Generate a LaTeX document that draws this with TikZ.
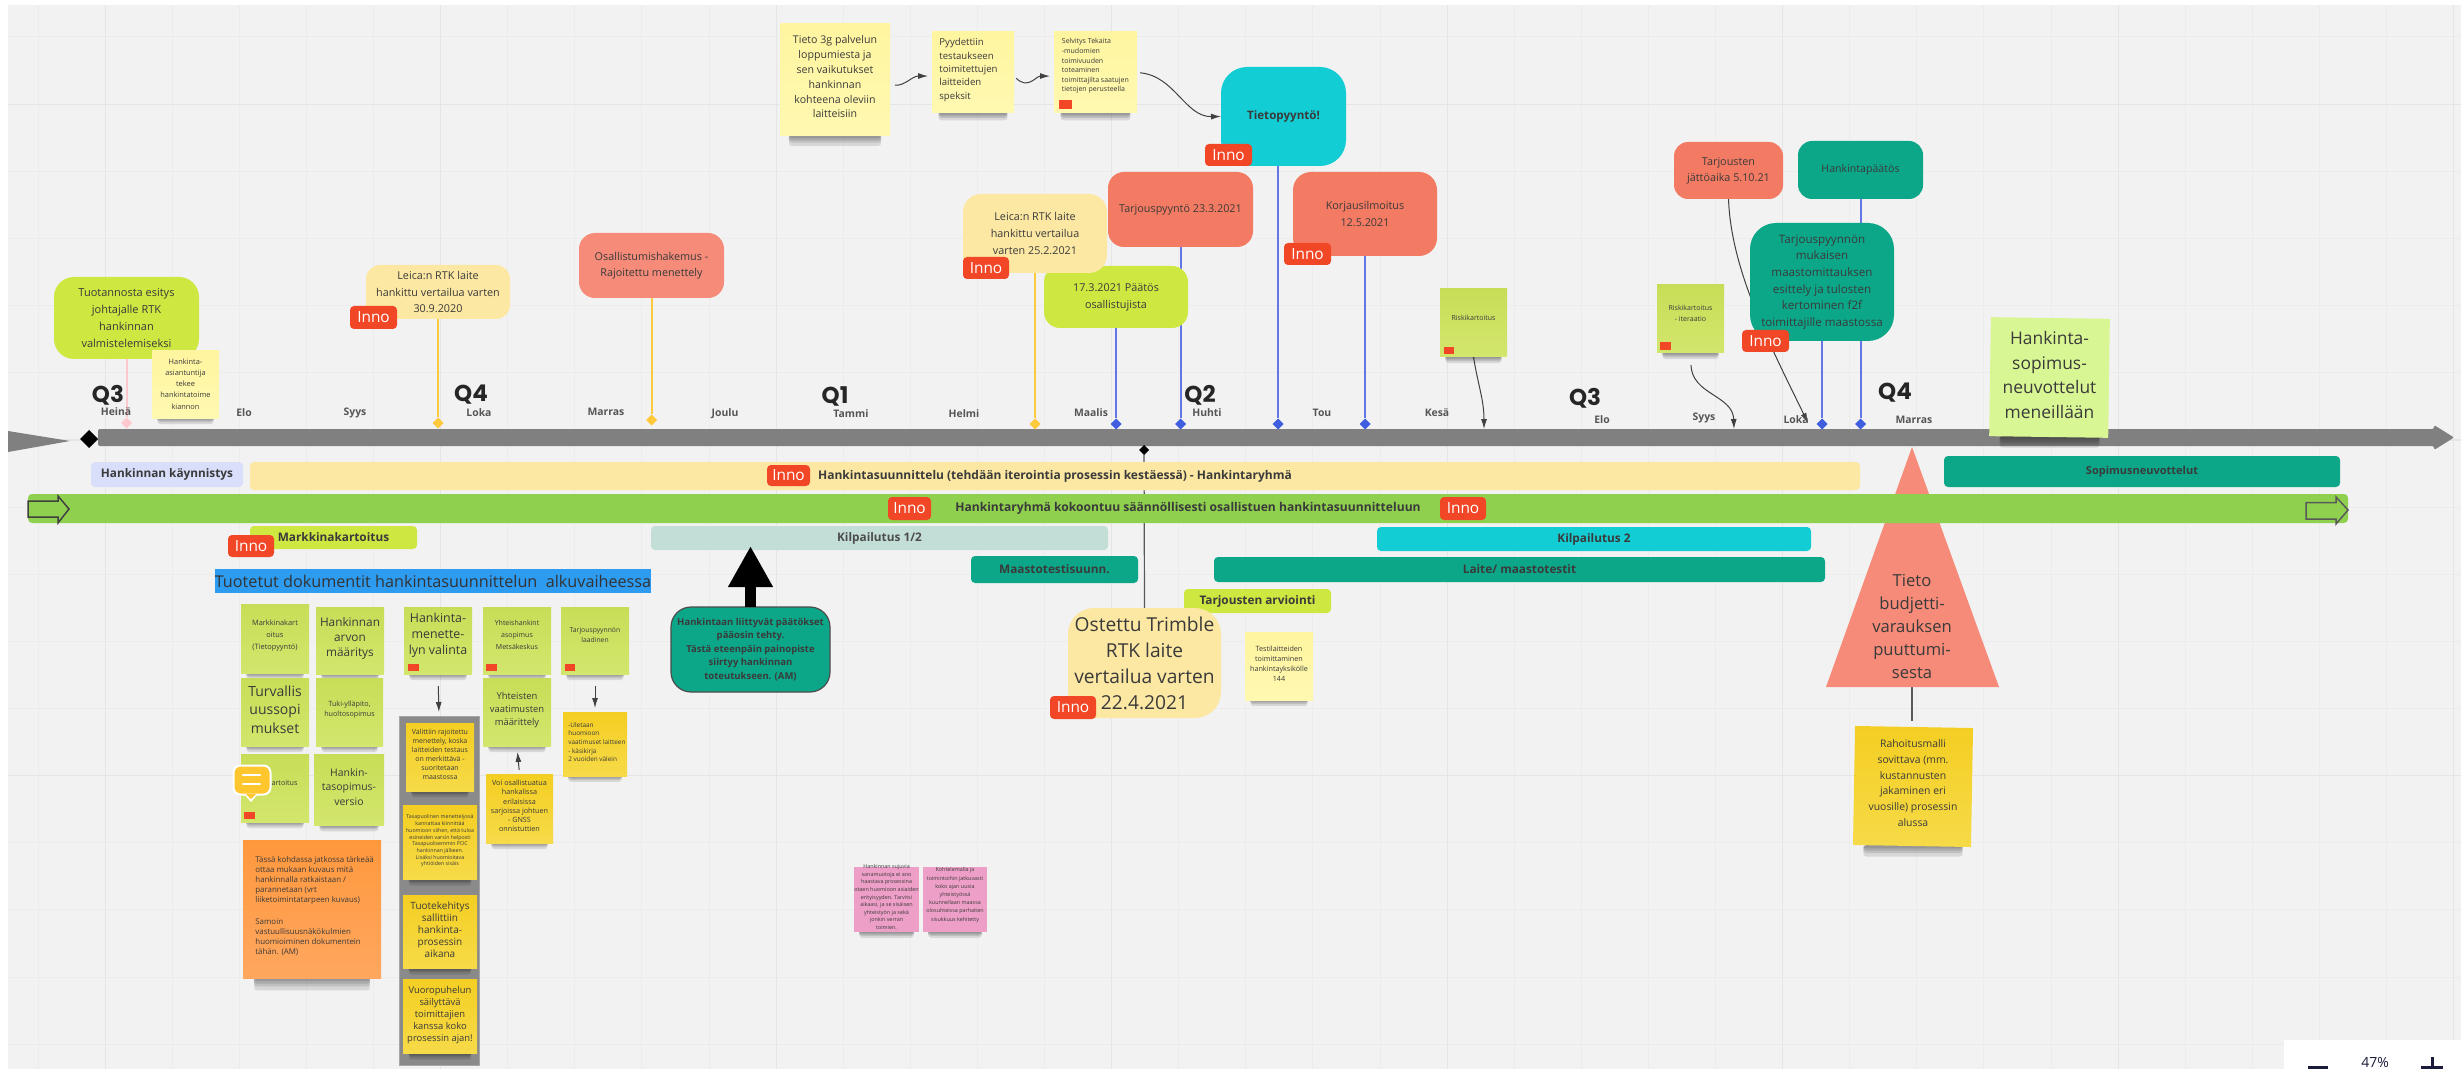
\documentclass[tikz,border=0pt]{standalone}
\usepackage{fontspec}
\setmainfont{Open Sans}
\newfontfamily\qfont{Poppins}
\usetikzlibrary{arrows.meta,shapes.geometric,calc}
\pgfdeclarelayer{bglayer}
\pgfdeclarelayer{linelayer}
\pgfsetlayers{bglayer,linelayer,main}
\definecolor{canvasgrey}{HTML}{F2F2F2}
\definecolor{gridminor}{HTML}{ECECEC}
\definecolor{gridmajor}{HTML}{E5E5E5}
\definecolor{barGrey}{HTML}{808080}
\definecolor{limeC}{HTML}{CEE741}
\definecolor{sandC}{HTML}{FCE8A3}
\definecolor{salmonC}{HTML}{F58B78}
\definecolor{coralC}{HTML}{F47B63}
\definecolor{cyanC}{HTML}{12CDD4}
\definecolor{tealC}{HTML}{0CA789}
\definecolor{periC}{HTML}{D9DFFB}
\definecolor{mintC}{HTML}{C3DED6}
\definecolor{grassC}{HTML}{8FD14F}
\definecolor{skyC}{HTML}{2D9BF0}
\definecolor{innoC}{HTML}{F24726}
\definecolor{lineBlue}{HTML}{6475E8}
\definecolor{diaBlue}{HTML}{3F5FE0}
\definecolor{lineGold}{HTML}{FFC93C}
\definecolor{pinkC}{HTML}{FFC9CF}
\definecolor{inkC}{HTML}{3A3A3A}
\definecolor{monthC}{HTML}{555555}
\definecolor{bubbleC}{HTML}{FFC62E}
\definecolor{navyC}{HTML}{1A1A3A}
\newcommand{\fs}[2]{\fontsize{#1}{#2}\selectfont}
% box with centred text: style, name, x1,y1,x2,y2, text
\newcommand{\bx}[7][]{\node[inner sep=0pt,outer sep=0pt,align=center,text=inkC,
  minimum width={(#5-#3)*0.5pt},minimum height={(#6-#4)*0.5pt},#1] (#2) at ({(#3+#5)/2},{(#4+#6)/2}) {#7};}
% free text
\newcommand{\tx}[5][]{\node[inner sep=0pt,align=center,text=inkC,#1] (#2) at (#3,#4) {#5};}
% sticky note: box style, name, x1,y1,x2,y2, text y, text options, text
\newcommand{\sticky}[9]{%
  \foreach \a in {0.02,0.04,0.06,0.09}{\fill[black,opacity=0.11,rounded corners=1.5pt]
     ({#3+0.08*(#5-#3)},{#6-1}) rectangle ({#5-0.08*(#5-#3)},{#6+\a*(#5-#3)});}
  \node[inner sep=0pt,outer sep=0pt,minimum width={(#5-#3)*0.5pt},minimum height={(#6-#4)*0.5pt},#1] (#2) at ({(#3+#5)/2},{(#4+#6)/2}) {};
  \node[inner sep=0pt,align=center,text=inkC,#8] (#2-t) at ({(#3+#5)/2},#7) {#9};}
\newcommand{\inno}[5]{\bx[innotag]{#1}{#2}{#3}{#4}{#5}{Inno}}
\newcommand{\redsq}[5]{\fill[innoC] (#2,#3) rectangle (#4,#5) coordinate (#1);}
\definecolor{FFF5A0}{HTML}{FFF5A0}\definecolor{FFF8B0}{HTML}{FFF8B0}
\definecolor{C8DD57}{HTML}{C8DD57}\definecolor{D3E66D}{HTML}{D3E66D}
\definecolor{F4CE22}{HTML}{F4CE22}\definecolor{F6DA48}{HTML}{F6DA48}
\definecolor{FF983D}{HTML}{FF983D}\definecolor{FFA75F}{HTML}{FFA75F}
\definecolor{EE9FC8}{HTML}{EE9FC8}\definecolor{D9F694}{HTML}{D9F694}
\tikzset{
  x=0.5pt,y=-0.5pt,
  innotag/.style={fill=innoC,rounded corners=2pt,text=white,font=\fs{7.7}{9}},
  boxL/.style={rounded corners=10pt},
  barbox/.style={rounded corners=2pt,font=\fs{5.9}{8}\bfseries},
  month/.style={text=monthC,font=\fs{5.2}{7}\bfseries},
  quarter/.style={text=black!85,font=\qfont\fs{11.5}{13}\bfseries},
  dia/.style={diamond,inner sep=0pt,outer sep=0pt,minimum size=5.5pt},
  bluel/.style={lineBlue,line width=1pt},
  goldl/.style={lineGold,line width=1pt},
  thincurve/.style={black!75,line width=0.5pt,-{Latex[length=5pt,width=3pt]}},
  stYellow/.style={top color=FFF5A0,bottom color=FFF8B0},
  stGreen/.style={top color=C8DD57,bottom color=D3E66D},
  stGold/.style={top color=F4CE22,bottom color=F6DA48},
  stOrange/.style={top color=FF983D,bottom color=FFA75F},
  stPink/.style={fill=EE9FC8},
  stLime/.style={fill=D9F694},
}
\begin{document}
\begin{tikzpicture}
\useasboundingbox (0,0) rectangle (2461,1069);
\begin{pgfonlayer}{bglayer}
  \fill[white] (0,0) rectangle (2461,1069);
  \fill[canvasgrey] (8,5) rectangle (2461,1069);
  \foreach \i in {0,...,36} \draw[gridminor,line width=0.5pt] ({38+67.1*\i},5) -- ({38+67.1*\i},1069);
  \foreach \j in {0,...,15} \draw[gridminor,line width=0.5pt] (8,{37+67.15*\j}) -- (2461,{37+67.15*\j});
  \foreach \i in {1,6,...,36} \draw[gridmajor,line width=0.6pt] ({38+67.1*\i},5) -- ({38+67.1*\i},1069);
  \foreach \j in {1,6,11} \draw[gridmajor,line width=0.6pt] (8,{37+67.15*\j}) -- (2461,{37+67.15*\j});
\end{pgfonlayer}

% timeline
\fill[barGrey] (8,431) -- (70,441) -- (8,452) -- cycle;
\fill[barGrey,rounded corners=1pt] (98,429) -- (2434,429) -- (2434,425) -- (2454,437.5) -- (2434,450) -- (2434,446) -- (98,446) -- cycle;
\node[dia,fill=black,minimum size=9pt] (startd) at (89,439) {};
\node[dia,fill=black,minimum size=5pt] (midd) at (1144,450) {};

% month and quarter labels
\tx[month]{mHeina}{116}{412}{Heinä}
\tx[month]{mElo}{244}{413}{Elo}
\tx[month]{mSyys}{355}{413}{Syys}
\tx[month]{mLoka}{479}{413}{Loka}
\tx[month]{mMarras}{606}{412}{Marras}
\tx[month]{mJoulu}{725}{414}{Joulu}
\tx[month]{mTammi}{851}{414}{Tammi}
\tx[month]{mHelmi}{964}{414}{Helmi}
\tx[month]{mMaalis}{1091}{413}{Maalis}
\tx[month]{mHuhti}{1207}{413}{Huhti}
\tx[month]{mTou}{1322}{413}{Tou}
\tx[month]{mKesa}{1437}{413}{Kesä}
\tx[month]{mElob}{1602}{420}{Elo}
\tx[month]{mSyysb}{1704}{418}{Syys}
\tx[month]{mLokab}{1796}{420}{Loka}
\tx[month]{mMarrasb}{1914}{420}{Marras}
\tx[quarter]{qa}{108}{395}{Q3}
\tx[quarter]{qb}{471}{395}{Q4}
\tx[quarter]{qc}{835}{396}{Q1}
\tx[quarter]{qd}{1200}{395}{Q2}
\tx[quarter]{qe}{1585}{398}{Q3}
\tx[quarter]{qf}{1895}{393}{Q4}

% triangle (below the green bar)
\fill[salmonC] (1912,447) coordinate (triapex) -- (1999,687) -- (1826,687) -- cycle;
\coordinate (tribase) at (1912,687);
\tx[font=\fs{8.3}{11.5}]{tritext}{1912}{626}{Tieto\\budjetti-\\varauksen\\puuttumi-\\sesta}

% bars
\bx[fill=periC,barbox,font=\fs{5.9}{8}\bfseries]{kayn}{91}{462}{243}{487}{Hankinnan käynnistys}
\bx[fill=sandC,barbox,font=\fs{6}{8}\bfseries]{hsuun}{250}{462}{1860}{490}{Hankintasuunnittelu (tehdään iterointia prosessin kestäessä) - Hankintaryhmä}
\bx[fill=grassC,barbox,font=\fs{6.05}{8}\bfseries]{ryhma}{28}{494}{2348}{523}{Hankintaryhmä kokoontuu säännöllisesti osallistuen hankintasuunnitteluun}
\draw[black!75,line width=0.75pt] (28,501) -- (58,501) -- (58,496) -- (69,509) -- (58,523) -- (58,517) -- (28,517) -- cycle;
\draw[black!65,line width=0.75pt] (2306,502.5) -- (2336,502.5) -- (2336,497) -- (2348,510) -- (2336,524) -- (2336,519) -- (2306,519) -- cycle;
\bx[fill=limeC,barbox]{mkart}{250}{526}{417}{549}{Markkinakartoitus}
\bx[fill=skyC,font=\fs{8.1}{9},text=black!80]{tuot}{216}{569}{650}{593}{Tuotetut dokumentit hankintasuunnittelun~ alkuvaiheessa}
\bx[fill=mintC,barbox,text=black!70]{kilp}{651}{526}{1108}{550}{Kilpailutus 1/2}
\bx[fill=cyanC,barbox]{kilpb}{1377}{527}{1811}{551}{Kilpailutus 2}
\bx[fill=tealC,barbox]{maasto}{971}{556}{1138}{583}{Maastotestisuunn.}
\bx[fill=tealC,barbox]{laite}{1214}{557}{1825}{582}{Laite/ maastotestit}
\bx[fill=limeC,barbox]{arvio}{1184}{589}{1331}{613}{Tarjousten arviointi}
\bx[fill=tealC,barbox,font=\fs{5.5}{8}\bfseries]{sopn}{1944}{456}{2340}{487}{Sopimusneuvottelut}

% milestone boxes
\bx[fill=limeC,boxL,font=\fs{5.5}{8.5}]{tuotan}{54}{277}{199}{359}{Tuotannosta esitys\\johtajalle RTK\\hankinnan\\valmistelemiseksi}
\bx[fill=sandC,boxL,rounded corners=7pt,font=\fs{5.4}{8.4}]{leicaa}{366}{265}{510}{319}{Leica:n RTK laite\\hankittu vertailua varten\\30.9.2020}
\bx[fill=salmonC,rounded corners=8pt,font=\fs{5.4}{8}]{osall}{579}{233}{724}{298}{Osallistumishakemus -\\Rajoitettu menettely}
\bx[fill=tealC,rounded corners=10pt,font=\fs{4.75}{6.8}\bfseries,draw=black!70,line width=0.6pt]{paat}{671}{607}{830}{692}{Hankintaan liittyvät päätökset\\pääosin tehty.\\Tästä eteenpäin painopiste\\siirtyy hankinnan\\toteutukseen. (AM)}
\bx[fill=cyanC,rounded corners=13pt,font=\fs{5.8}{8}\bfseries]{tieto}{1221}{67}{1346}{166}{Tietopyyntö!}
\bx[fill=coralC,rounded corners=8pt,font=\fs{5.4}{8}]{tarj}{1108}{172}{1253}{247}{Tarjouspyyntö 23.3.2021}
\bx[fill=coralC,rounded corners=9pt,font=\fs{5.4}{8.5}]{korj}{1293}{172}{1437}{256}{Korjausilmoitus\\12.5.2021}
\bx[fill=limeC,rounded corners=8pt,font=\fs{5.4}{8.5}]{paatos}{1044}{266}{1188}{328}{17.3.2021 Päätös\\osallistujista}
\bx[fill=sandC,rounded corners=9pt,font=\fs{5.4}{8.5}]{leicab}{963}{194}{1107}{273}{Leica:n RTK laite\\hankittu vertailua\\varten 25.2.2021}
\bx[fill=coralC,rounded corners=7pt,font=\fs{5.4}{8}]{jatto}{1674}{142}{1783}{199}{Tarjousten\\jättöaika 5.10.21}
\bx[fill=tealC,rounded corners=7pt,font=\fs{5.3}{8}]{hpaat}{1798}{141}{1923}{199}{Hankintapäätös}
\bx[fill=tealC,rounded corners=13pt,font=\fs{5.8}{8.3}]{mittaus}{1750}{223}{1894}{341}{Tarjouspyynnön\\mukaisen\\maastomittauksen\\esittely ja tulosten\\kertominen f2f\\toimittajille maastossa}
\bx[fill=sandC,rounded corners=13pt,font=\fs{9.6}{13}]{ostettu}{1068}{608}{1221}{718}{Ostettu Trimble\\RTK laite\\vertailua varten\\22.4.2021}

% diamonds on the timeline
\node[dia,fill=pinkC] (dpink) at (126.5,423) {};
\node[dia,fill=lineGold] (dgolda) at (438,423) {};
\node[dia,fill=lineGold] (dgoldb) at (651.5,420) {};
\node[dia,fill=lineGold] (dgoldc) at (1035,424) {};
\node[dia,fill=diaBlue] (dblueA) at (1116,424) {};
\node[dia,fill=diaBlue] (dblueB) at (1180.5,424) {};
\node[dia,fill=diaBlue] (dblueC) at (1278,424) {};
\node[dia,fill=diaBlue] (dblueD) at (1365,424) {};
\node[dia,fill=diaBlue] (dblueE) at (1822,424) {};
\node[dia,fill=diaBlue] (dblueF) at (1860.5,424) {};

% notes on the timeline side
\sticky{stYellow}{ekspert}{152}{351}{219}{418}{384}{font=\fs{3.7}{5.6}}{Hankinta-\\asiantuntija\\tekee\\hankintatoime\\kiannon}
\sticky{stYellow}{tiet3g}{780}{24}{890}{136}{77}{font=\fs{5.3}{7.4}}{Tieto 3g palvelun\\loppumiesta ja\\sen vaikutukset\\hankinnan\\kohteena oleviin\\laitteisiin}
\sticky{stYellow}{pyyd}{932}{32}{1014}{113}{70}{font=\fs{4.8}{6.7},align=left,anchor=west,xshift=-17pt}{Pyydettiin\\testaukseen\\toimitettujen\\laitteiden\\speksit}
\sticky{stYellow}{selv}{1054}{32}{1137}{113}{66}{font=\fs{3.5}{4.8},align=left,anchor=west,xshift=-17pt}{Selvitys Tekaita\\-mudomien\\toimivuuden\\toteaminen\\toimittajilta saatujen\\tietojen perusteella}
\redsq{selvr}{1059}{100}{1072}{109}
\sticky{stGreen}{risk}{1440}{289}{1507}{357}{318}{font=\fs{3.5}{5}}{Riskikartoitus}
\redsq{riskr}{1444}{347}{1454}{354}
\sticky{stGreen}{riskb}{1657}{285}{1724}{353}{313.5}{font=\fs{3.5}{5.6}}{Riskikartoitus\\- iteraatio}
\redsq{riskbr}{1660}{342}{1671}{350}
\sticky{stLime,rotate=-0.8}{hsop}{1990}{318}{2109}{437}{375}{font=\fs{8.7}{12.3}}{Hankinta-\\sopimus-\\neuvottelut\\meneillään}
\sticky{stGold,rotate=-1}{rahoi}{1854}{727}{1972}{846}{783}{font=\fs{5.2}{7.85}}{Rahoitusmalli\\sovittava (mm.\\kustannusten\\jakaminen eri\\vuosille) prosessin\\alussa}
\sticky{stYellow}{testi}{1245}{632}{1313}{700}{664}{font=\fs{3.6}{5}}{Testilaitteiden\\toimittaminen\\hankintayksikölle\\144}
\sticky{stPink}{pinka}{854}{867}{919}{932}{897}{font=\fs{2.7}{3.8}}{Hankinnan sujuvia\\sanamuotoja ei ano\\haastava prosessina\\otaen huomioon asiaiden\\erityisyyden. Tarvitsi\\aikaasi, ja se sisäisen\\yhteistyön ja sekä\\jonkin verran\\toimien.}
\sticky{stPink}{pinkb}{923}{867}{987}{932}{895}{font=\fs{2.7}{4.1}}{Kohtelemalla ja\\toimintoihin jatkuvasti\\koko ajan uusia\\yhteistyössä\\kuunnellaan maassa\\olosuhteissa parhaiten\\sisukkuus kehitetty}

% documents block
\sticky{stGreen}{docA}{241}{604}{309}{673}{636}{font=\fs{3.7}{6}}{Markkinakart\\oitus\\(Tietopyyntö)}
\sticky{stGreen}{docB}{316}{607}{384}{674}{638}{font=\fs{5.9}{7.5}}{Hankinnan\\arvon\\määritys}
\sticky{stGreen}{docC}{404}{607}{472}{674}{635}{font=\fs{6.2}{8}}{Hankinta-\\menette-\\lyn valinta}
\redsq{docCr}{408}{664}{419}{671}
\sticky{stGreen}{docD}{483}{607}{551}{674}{635}{font=\fs{3.5}{6}}{Yhteishankint\\asopimus\\Metsäkeskus}
\redsq{docDr}{486}{664}{497}{671}
\sticky{stGreen}{docE}{561}{607}{629}{674}{635}{font=\fs{3.4}{5}}{Tarjouspyynnön\\laadinen}
\redsq{docEr}{565}{664}{575}{671}
\sticky{stGreen}{docF}{241}{678}{309}{746}{709.5}{font=\fs{7}{9.2}}{Turvallis\\uussopi\\mukset}
\sticky{stGreen}{docG}{316}{678}{383}{746}{710}{font=\fs{3.6}{5}}{Tuki-ylläpito,\\huoltosopimus}
\sticky{stGreen}{docH}{483}{678}{551}{746}{710}{font=\fs{4.7}{6.5}}{Yhteisten\\vaatimusten\\määrittely}
\sticky{stGreen}{docI}{241}{754}{309}{822}{783}{font=\fs{3.6}{5}}{Riskikartoitus}
\redsq{docIr}{244}{812}{255}{819}
\sticky{stGreen}{docJ}{314}{754}{384}{825}{787}{font=\fs{5.2}{7.3}}{Hankin-\\tasopimus-\\versio}
\sticky{stOrange}{docK}{243}{840}{381}{978}{906}{font=\fs{3.95}{5.1},align=left,anchor=west,xshift=-28.5pt}{Tässä kohdassa jatkossa tärkeää\\ottaa mukaan kuvaus mitä\\hankinnalla ratkaistaan /\\parannetaan (vrt\\liiketoimintatarpeen kuvaus)\\[5.5pt]Samoin\\vastuullisuusnäkökulmien\\huomioiminen dokumentein\\tähän. (AM)}

% grey panel with notes
\bx[fill=black!46,draw=black!35,line width=0.5pt]{panel}{399}{716}{479}{1065}{}
\sticky{stGold}{pa}{406}{723}{474}{791}{754.5}{font=\fs{3.5}{4.5}}{Valittiin rajoitettu\\menettely, koska\\laitteiden testaus\\on merkittävä -\\suoritetaan\\maastossa}
\sticky{stGold}{pb}{403}{805}{477}{879}{841}{font=\fs{2.65}{3.35}}{Tasapuolinen menettelyssä\\kannattaa kiinnittää\\huomioon siihen, että tuloa\\esineiden varsin helposti\\Tasapuolisemmin POC\\hankinnan jälkeen.\\Lisäksi huomioitava\\yhtiöiden sisäis}
\sticky{stGold}{pc}{403}{895}{477}{968}{930}{font=\fs{5}{6}}{Tuotekehitys\\sallittiin\\hankinta-\\prosessin\\aikana}
\sticky{stGold}{pd}{403}{979}{477}{1053}{1015}{font=\fs{4.7}{6}}{Vuoropuhelun\\säilyttävä\\toimittajien\\kanssa koko\\prosessin ajan!}
\sticky{stGold}{yhta}{486}{774}{553}{843}{806}{font=\fs{3.6}{4.6}}{Voi osallistuatua\\hankalissa\\erilaisissa\\sarjoissa johtuen\\- GNSS\\onnistuttien}
\sticky{stGold}{tarl}{563}{712}{627}{776}{742}{font=\fs{3.2}{4.3},align=left,anchor=west,xshift=-13.5pt}{-Uletaan\\huomioon\\vaatimuset laitteen\\- käsikirja\\2 vuoiden välein}

% comment bubble
\fill[white] (243,793) -- (251,802) -- (259,793) -- cycle;
\node[fill=bubbleC,draw=white,line width=1pt,rounded corners=3.5pt,minimum width=18.5pt,minimum height=14.5pt,inner sep=0pt] (bubble) at (252,780) {};
\fill[bubbleC] (246,794) -- (251,799) -- (256,794) -- cycle;
\draw[white,line width=1.2pt,line cap=round] (243,775) -- (260,775) (243,784) -- (260,784);

% Inno tags
\inno{ia}{350}{306}{397}{329}
\inno{ib}{228}{535}{274}{557}
\inno{ic}{767}{465}{810}{486}
\inno{id}{888}{497}{931}{520}
\inno{ie}{1440}{497}{1486}{520}
\inno{ig}{1205}{144}{1252}{166}
\inno{ih}{963}{257}{1009}{279}
\inno{ii}{1284}{243}{1331}{265}
\inno{ij}{1742}{330}{1789}{352}
\inno{ik}{1050}{696}{1096}{719}

% big arrow
\draw[black,line width=5.75pt,-{Triangle[length=20.5pt,width=21pt]},shorten >=-2pt] (paat.north) -- (paat.north |- kilp.south);

% zoom widget
\node[fill=white,inner sep=0pt,minimum width=88.5pt,minimum height=14.5pt,anchor=north west] (zoomw) at (2284,1040) {};
\tx[text=navyC,font=\fs{7}{8}]{zpct}{2375}{1062}{47\%}
\draw[navyC,line width=1.5pt] (2308,1067) -- (2328,1067);
\draw[navyC,line width=1.5pt] (2421,1067) -- (2443,1067) (2432,1057) -- (2432,1069);

% connectors under the boxes
\begin{pgfonlayer}{linelayer}
  \draw[pinkC,line width=1pt] (tuotan.south) -- (dpink);
  \draw[goldl] (leicaa.south) -- (dgolda);
  \draw[goldl] (osall.south) -- (dgoldb);
  \draw[goldl] (leicab.south) -- (dgoldc);
  \draw[bluel] (paatos.south) -- (dblueA);
  \draw[bluel] (tarj.south) -- (dblueB);
  \draw[bluel] (dblueC) -- (dblueC |- tieto.south);
  \draw[bluel] (korj.south) -- (dblueD);
  \draw[bluel] (mittaus.south) -- (dblueE);
  \draw[bluel] (hpaat.south) -- (dblueF);
  \draw[black!65,line width=0.6pt] (ostettu.north) -- (midd);
  \draw[black!65,line width=0.6pt,shorten >=3pt] (tribase) -- (tribase |- rahoi.north);
  \coordinate (barA) at (1484,429);
  \coordinate (barB) at (1734,429);
  \coordinate (barC) at (1808,423);
  \draw[thincurve] (risk.south) .. controls (1478,385) and (1484,400) .. (barA);
  \draw[thincurve,shorten <=6pt] (riskb.south) .. controls (1692,395) and (1733,395) .. (barB);
  \draw[thincurve] (jatto.south) .. controls (1731,270) and (1770,345) .. (barC);
  \draw[thincurve,shorten <=2.5pt,shorten >=2pt] (tiet3g.-5) .. controls (905,86) and (912,76) .. (pyyd.185);
  \draw[thincurve,shorten <=1.5pt,shorten >=2pt] (pyyd.-5) .. controls (1028,90) and (1036,76) .. (selv.185);
  \draw[thincurve,shorten <=1.5pt] (selv.east) .. controls (1175,76) and (1185,117) .. (tieto.west);
  \draw[thincurve,shorten <=6pt,shorten >=2pt] (docC.south) -- (panel.north);
  \draw[thincurve,shorten <=6pt,shorten >=2pt] (docE.south) -- (tarl.north);
  \draw[thincurve,shorten <=2pt,shorten >=3pt] (yhta.north) -- (docH.south);
\end{pgfonlayer}
\end{tikzpicture}
\end{document}
